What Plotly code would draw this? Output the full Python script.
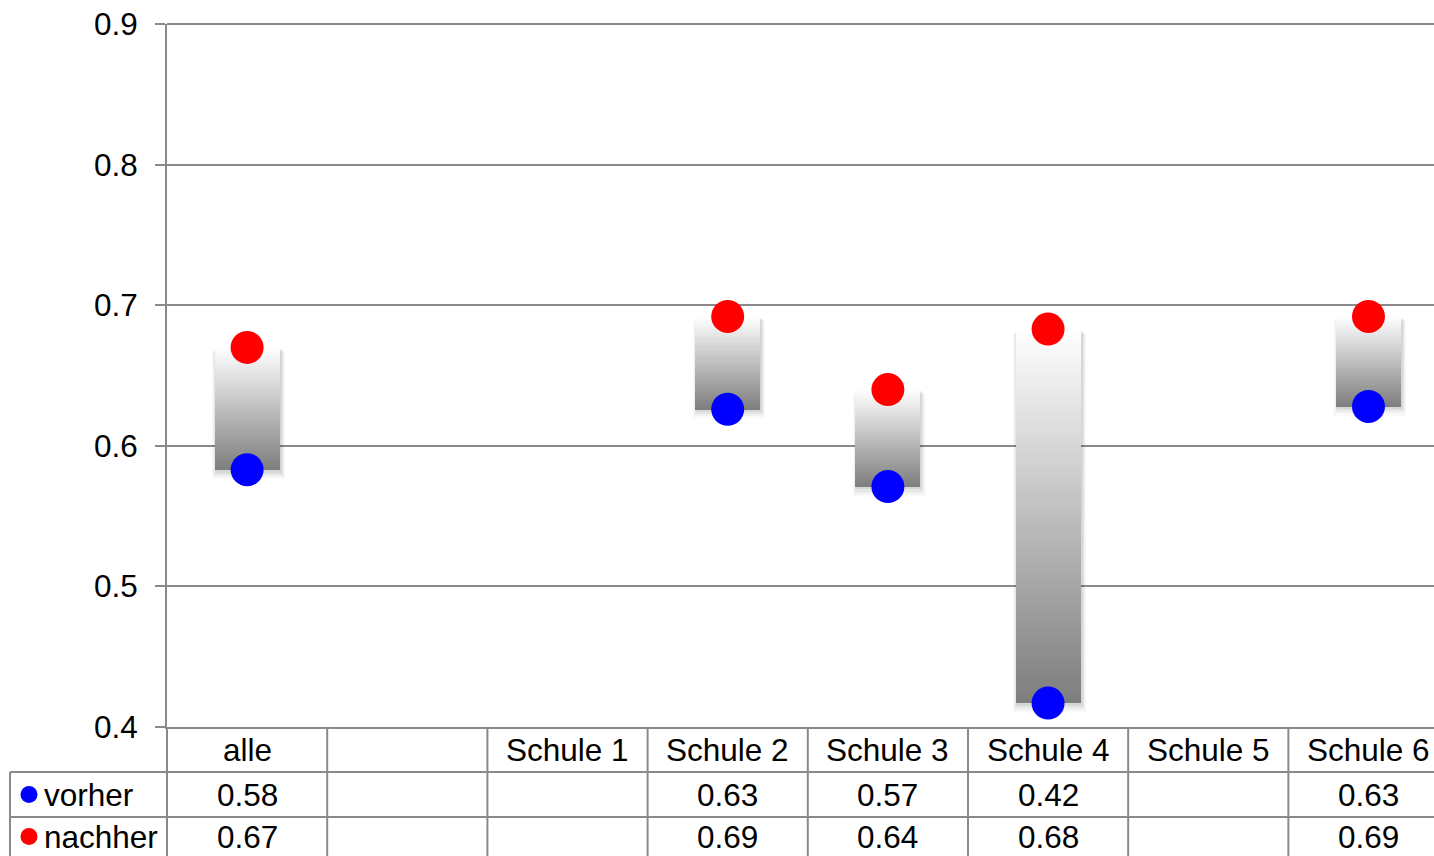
import plotly.graph_objects as go

# Categories and series (None = no data for that school)
categories = ["alle", "", "Schule 1", "Schule 2", "Schule 3", "Schule 4", "Schule 5", "Schule 6"]
vorher = [0.583, None, None, 0.626, 0.571, 0.417, None, 0.628]
nachher = [0.670, None, None, 0.692, 0.640, 0.683, None, 0.692]
series_names = ["vorher", "nachher"]
series_colors = ["#0000FF", "#FF0000"]
y_ticks = [0.4, 0.5, 0.6, 0.7, 0.8, 0.9]

# Page geometry (pixels)
W, H = 1434, 856
M_L, M_T, M_B = 167, 24, 129
PLOT_W = W - M_L
PLOT_H = H - M_T - M_B
ROW_H = 45
GRID = "#8a8a8a"
FONT = "Liberation Sans, Arial, sans-serif"
FS = 31.5
BAR_W = 0.405


def px_x(p):
    return (p - M_L) / PLOT_W


def px_y(p):
    return (H - M_B - p) / PLOT_H


xs = list(range(len(categories)))
fig = go.Figure()

# soft drop shadow behind the up/down bars (several faint layers)
for grow, drop, alpha in [(0.05, 0.0065, 0.025), (0.035, 0.005, 0.035),
                          (0.022, 0.0035, 0.045), (0.01, 0.002, 0.06)]:
    base = [v - drop if v is not None else None for v in vorher]
    hgt = [(n - v) + drop * 0.5 if v is not None else None for v, n in zip(vorher, nachher)]
    fig.add_trace(go.Bar(x=[x + 0.008 for x in xs], y=hgt, base=base, width=BAR_W + grow,
                         marker=dict(color=f"rgba(0,0,0,{alpha})", line=dict(width=0)),
                         hoverinfo="skip", showlegend=False))

# up/down bars with a vertical white-to-gray gradient, built from thin slices
N = 70
for i in range(N):
    t = (i + 0.5) / N
    g = int(round(125 + (255 - 125) * t))
    base = [v + (n - v) * i / N if v is not None else None for v, n in zip(vorher, nachher)]
    hgt = [(n - v) / N if v is not None else None for v, n in zip(vorher, nachher)]
    fig.add_trace(go.Bar(x=xs, y=hgt, base=base, width=BAR_W,
                         marker=dict(color=f"rgb({g},{g},{g})", line=dict(width=0)),
                         hoverinfo="skip", showlegend=False))

# the two series as round markers
for name, vals, col in zip(series_names, [vorher, nachher], series_colors):
    fig.add_trace(go.Scatter(x=xs, y=vals, mode="markers", name=name,
                             marker=dict(size=33, color=col, line=dict(width=0)),
                             showlegend=False, cliponaxis=False))

shapes = []
annotations = []

# top gridline
shapes.append(dict(type="line", xref="paper", yref="paper", x0=0, x1=1, y0=1, y1=1,
                   line=dict(color=GRID, width=2)))

# data table below the plot
y_row1 = px_y(M_T + PLOT_H + ROW_H)
y_row2 = px_y(M_T + PLOT_H + 2 * ROW_H)
y_bottom = px_y(H + 5)
x_left = px_x(10)

# column dividers
for k in range(1, len(categories)):
    shapes.append(dict(type="line", xref="x", yref="paper", x0=k - 0.5, x1=k - 0.5,
                       y0=0, y1=y_bottom, line=dict(color=GRID, width=2)))
# first divider / y-axis continuation
shapes.append(dict(type="line", xref="paper", yref="paper", x0=0, x1=0,
                   y0=0, y1=y_bottom, line=dict(color=GRID, width=2)))
# left border of series rows
shapes.append(dict(type="line", xref="paper", yref="paper", x0=x_left, x1=x_left,
                   y0=y_row1, y1=y_bottom, line=dict(color=GRID, width=2)))
# row lines
for yy in [y_row1, y_row2]:
    shapes.append(dict(type="line", xref="paper", yref="paper", x0=x_left, x1=1,
                       y0=yy, y1=yy, line=dict(color=GRID, width=2)))

# category row
for x, c in zip(xs, categories):
    annotations.append(dict(x=x, y=px_y(M_T + PLOT_H + ROW_H / 2), xref="x", yref="paper",
                            text=c, showarrow=False, xanchor="center", yanchor="middle",
                            font=dict(size=FS, color="black", family=FONT)))

# series rows: legend key, name and values (last row nudged up to stay on the page)
row_nudge = [0, -3]
for r, (name, vals, col) in enumerate(zip(series_names, [vorher, nachher], series_colors)):
    cy = M_T + PLOT_H + ROW_H * (r + 1) + ROW_H / 2 + row_nudge[r]
    shapes.append(dict(type="circle", xref="paper", yref="paper",
                       x0=px_x(20.5), x1=px_x(37.5), y0=px_y(cy + 8.5), y1=px_y(cy - 8.5),
                       fillcolor=col, line=dict(width=0)))
    annotations.append(dict(x=px_x(42), y=px_y(cy), xref="paper", yref="paper",
                            text=name, showarrow=False, xanchor="left", yanchor="middle",
                            font=dict(size=FS, color="black", family=FONT)))
    for x, v in zip(xs, vals):
        if v is None:
            continue
        annotations.append(dict(x=x, y=px_y(cy), xref="x", yref="paper",
                                text=f"{v:.2f}", showarrow=False, xanchor="center",
                                yanchor="middle",
                                font=dict(size=FS, color="black", family=FONT)))

fig.update_layout(
    width=W, height=H,
    margin=dict(l=M_L, r=0, t=M_T, b=M_B, pad=0),
    paper_bgcolor="white", plot_bgcolor="white",
    barmode="overlay", bargap=0,
    showlegend=False,
    font=dict(family=FONT, size=FS, color="black"),
    shapes=shapes, annotations=annotations,
    xaxis=dict(range=[-0.5, 7.409], showticklabels=False, showgrid=False, zeroline=False,
               showline=True, linecolor=GRID, linewidth=2, ticks=""),
    yaxis=dict(range=[0.4, 0.9], tickvals=y_ticks, tickformat=".1f",
               showgrid=True, gridcolor=GRID, gridwidth=2, zeroline=False,
               showline=True, linecolor=GRID, linewidth=2,
               ticks="outside", ticklen=10, tickcolor=GRID, tickwidth=2,
               ticklabelstandoff=11,
               tickfont=dict(size=FS, color="black", family=FONT)),
)

fig.write_html("out.html")
